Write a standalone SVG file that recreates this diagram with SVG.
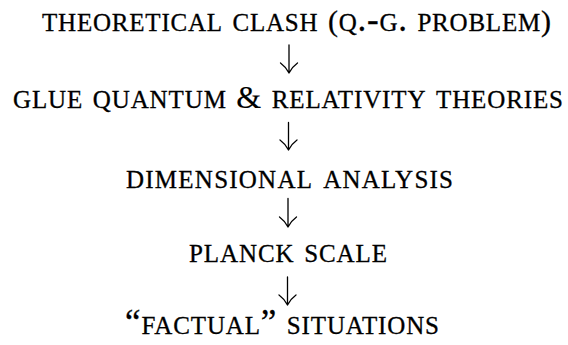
<svg xmlns="http://www.w3.org/2000/svg" width="568" height="345" viewBox="0 0 568 345">
<style>
.t{font-family:"Liberation Serif","Times New Roman",serif;font-size:35px;font-variant:small-caps;fill:#000;stroke:#000;stroke-width:0.3}
.p{font-size:30px}
.a{font-size:32px;stroke-width:0.15}
.arr{fill:none;stroke:#000;stroke-width:1.3;stroke-linecap:round}
</style>
<rect width="568" height="345" fill="#fff"/>
<g id="n1"><text class="t" x="42" y="30.5" textLength="509">theoretical clash <tspan class="p">(</tspan>q.-g. problem<tspan class="p">)</tspan></text></g>
<g id="n2"><text class="t" x="13" y="107.5" textLength="550">glue quantum <tspan class="a">&amp;</tspan> relativity theories</text></g>
<g id="n3"><text class="t" x="126" y="188" textLength="327">dimensional analysis</text></g>
<g id="n4"><text class="t" x="189" y="262" textLength="198">planck scale</text></g>
<g id="n5"><text class="t" x="125" y="333.5" textLength="314">“factual” situations</text></g>
<g id="connectors">
<path class="arr" d="M289,45V73M280.5,63Q286,67 289,73M297.5,63Q292,67 289,73"/>
<path class="arr" d="M288.5,122.5V150M280,140Q285.5,144 288.5,150M297,140Q291.5,144 288.5,150"/>
<path class="arr" d="M288,198.5V227M279.5,217Q285,221 288,227M296.5,217Q291,221 288,227"/>
<path class="arr" d="M287.5,277V305M279,295Q284.5,299 287.5,305M296,295Q290.5,299 287.5,305"/>
</g>
</svg>
